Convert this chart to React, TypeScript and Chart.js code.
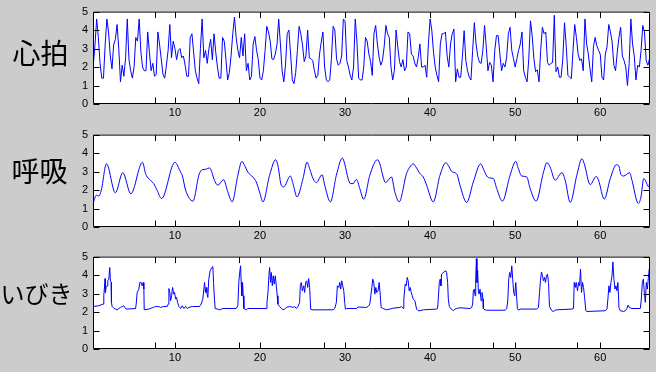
import React, { useEffect, useRef } from "react";
import { Chart, registerables } from "chart.js";
Chart.register(...registerables);

// ---- axes ----
const X_MIN = 0.37;
const X_MAX = 65.85;
const X_TICKS = [10, 20, 30, 40, 50, 60];
const X_MINOR_TICKS = [7.65, 17.56, 27.5, 37.45, 47.35, 57.3];
const Y_TICKS = [0, 1, 2, 3, 4, 5];

// ---- panel titles ----
const TITLES = ["心拍", "呼吸", "いびき"];

// ---- 心拍 (sampled every 0.2 from x = 0.4) ----
const HEART_X0 = 0.4;
const HEART_STEP = 0.2;
const HEART = [
  2.1, 3.2, 4.6, 3.6, 2.2, 1.4, 1.4, 3.2, 4.6, 3.9,
  2.6, 1.9, 3.2, 3.5, 4.3, 3.0, 1.2, 2.1, 1.5, 2.5,
  4.6, 2.4, 1.8, 1.4, 2.0, 3.6, 3.4, 4.6, 2.8, 2.0,
  1.8, 1.8, 3.9, 2.8, 1.8, 2.2, 1.5, 1.6, 3.9, 3.2,
  2.4, 1.6, 1.4, 2.1, 2.9, 4.3, 2.5, 3.4, 3.0, 2.4,
  2.9, 3.0, 2.5, 2.6, 2.1, 1.5, 1.5, 3.6, 3.8, 2.8,
  1.8, 1.4, 1.1,
  3.0, 4.6, 2.5, 2.9, 2.2, 3.0, 3.5, 2.4, 3.8, 2.8,
  2.0, 1.4, 1.4, 3.6, 3.4, 2.4, 1.3, 1.7, 2.6, 3.8,
  4.7, 3.6, 2.9, 2.5, 3.6, 2.6, 3.8, 1.8, 2.2, 1.3,
  1.5, 3.25, 3.65, 2.9, 2.4, 1.4, 1.3, 1.8, 2.9, 4.2,
  3.9, 3.4, 2.45, 2.4, 2.7, 3.2, 4.6, 3.25, 1.8,
  1.2, 2.1, 3.8, 4.0, 2.7, 1.3, 1.1, 1.7, 2.9, 4.2,
  3.8, 3.2, 2.3, 2.6, 4.0, 2.5, 2.45, 2.35, 1.8, 1.4,
  1.55, 2.7, 3.35, 3.9, 2.0, 1.3, 1.2, 1.3, 2.45, 4.2,
  4.0, 2.45, 2.1, 2.2, 2.6, 4.6, 4.5, 2.35, 2.0, 1.55,
  1.3, 2.0, 4.6, 3.35, 1.4, 1.3, 1.3, 2.0, 3.6, 3.4,
  2.7, 2.3, 1.55,
  3.8, 4.25, 3.25, 2.55, 2.1, 2.35, 3.1, 4.25, 3.8, 3.6,
  2.0, 1.3, 1.8, 4.0, 3.1, 2.3, 2.0, 2.4, 1.8, 2.0,
  3.9, 3.8, 2.7, 2.6, 2.2, 2.0, 2.5, 3.25,
  2.0, 2.0, 2.1, 1.45, 3.25, 4.6, 4.0, 2.8, 2.0, 1.55,
  1.2, 3.25, 3.8, 3.8, 3.9, 2.6, 2.0, 3.25, 3.8, 4.05,
  1.2, 1.9, 1.45, 1.45, 2.6, 3.97,
  2.35, 1.8, 1.45, 1.3, 2.9, 4.4, 3.25, 2.6, 2.25, 2.2,
  2.9, 4.25, 3.1, 1.8, 2.25, 2.1, 1.2, 2.9, 3.7, 3.7,
  2.7, 1.8, 2.2, 2.0, 2.55, 3.8, 4.15, 2.9, 2.45, 2.0,
  2.45, 2.9, 3.25, 3.9, 1.8, 1.45, 1.2, 2.45, 4.5, 3.7,
  2.45, 1.75, 1.85, 1.2, 2.9, 4.15, 3.8, 3.9, 2.25, 2.1,
  2.2, 2.25, 4.8,
  1.75, 2.0, 1.45, 1.45, 2.45, 4.4, 3.15, 1.55, 1.45, 1.37,
  2.9, 4.3, 3.6, 2.7, 2.35, 2.45, 1.8, 4.6, 3.25, 2.7,
  1.9, 1.2, 3.1, 3.6, 3.15, 2.9, 2.7, 1.45, 1.3, 2.7,
  3.1, 4.3, 3.9, 3.35, 2.1, 1.8, 2.8, 3.6, 4.15, 2.6,
  2.35, 2.0, 1.0, 2.2, 4.6, 3.25, 2.6, 1.3, 2.1, 2.0,
  2.9, 4.25, 3.9, 2.35, 2.1, 2.45,
];

// ---- 呼吸 (x, y) ----
const BREATH = [
  [0.37, 1.27], [0.77, 1.72], [1.05, 1.67], [1.35, 2.0], [1.95, 3.42], [3.0, 1.85],
  [3.87, 2.94], [4.82, 1.8], [6.19, 3.5], [6.55, 2.89], [6.74, 2.71], [7.13, 2.53],
  [7.5, 2.35], [7.9, 1.99], [8.43, 1.54], [10.0, 3.5], [10.67, 2.97], [10.86, 2.8],
  [11.26, 1.99], [12.12, 1.4], [12.83, 2.83], [13.22, 3.1], [13.61, 3.12], [14.06, 3.2],
  [14.73, 2.44], [15.05, 2.26], [15.71, 2.56], [16.22, 1.9], [16.73, 1.36], [17.4, 2.8],
  [17.87, 3.55], [18.19, 3.33], [18.58, 2.97], [19.17, 2.7], [19.56, 2.44], [19.95, 1.9],
  [20.35, 1.36], [21.13, 2.8], [21.84, 3.64], [22.11, 3.33], [22.5, 2.26], [22.78, 2.17],
  [23.57, 2.76], [23.88, 2.35], [24.35, 1.63], [25.06, 2.62], [25.53, 3.51], [25.84, 3.15],
  [26.24, 2.62], [26.63, 2.4], [27.3, 2.83], [27.61, 2.26], [28.28, 1.36], [28.98, 2.8],
  [29.69, 3.73], [29.96, 3.42], [30.36, 2.62], [30.63, 2.35], [30.95, 2.35], [31.34, 2.58],
  [31.73, 2.08], [32.2, 1.5], [32.91, 2.8], [33.81, 3.64], [34.09, 3.42], [34.48, 2.71],
  [34.75, 2.4], [35.46, 2.71], [35.85, 1.9], [36.36, 1.36], [37.23, 2.89], [37.62, 3.24],
  [38.01, 3.42], [38.41, 3.19], [38.8, 2.89], [39.19, 2.71], [39.59, 2.26], [40.37, 1.36],
  [41.16, 2.8], [41.86, 3.48], [42.14, 3.33], [42.53, 3.01], [42.92, 2.94], [43.2, 2.8],
  [43.51, 2.26], [44.3, 1.33], [45.08, 2.44], [45.95, 3.42], [46.26, 3.15], [46.65, 2.76],
  [47.05, 2.65], [47.44, 2.62], [47.83, 2.08], [48.5, 1.4], [49.4, 2.8], [50.07, 3.55],
  [50.38, 3.15], [50.77, 2.76], [51.36, 2.71], [51.76, 2.08], [52.46, 1.4], [53.33, 2.97],
  [53.72, 3.48], [54.11, 3.24], [54.7, 2.53], [55.49, 2.94], [55.88, 2.53], [56.47, 1.33],
  [57.25, 2.8], [57.84, 3.69], [58.12, 3.42], [58.82, 2.29], [59.53, 2.74], [59.8, 2.53],
  [60.47, 1.51], [61.18, 2.62], [61.89, 3.37], [62.16, 3.33], [62.44, 2.83], [62.75, 2.76],
  [63.46, 2.94], [63.73, 2.53], [64.48, 1.27], [64.79, 1.63], [65.11, 2.62], [65.3, 2.53],
  [65.69, 2.17], [65.85, 2.5],
];

// ---- いびき (x, y) ----
const SNORE = [
  [0.37, 2.3], [1.05, 2.34], [1.56, 2.43], [1.64, 2.88], [1.76, 3.6], [1.79, 3.81],
  [1.83, 3.06], [1.91, 3.33], [2.03, 3.42], [2.11, 3.69], [2.23, 3.78], [2.34, 4.41],
  [2.42, 3.69], [2.5, 3.6], [2.54, 2.52], [2.62, 2.3], [2.81, 2.21], [3.01, 2.16],
  [3.21, 2.12], [3.4, 2.19], [3.6, 2.25], [3.8, 2.3], [3.99, 2.34], [4.11, 2.25],
  [4.27, 2.16], [5.37, 2.19], [5.45, 2.43], [5.56, 3.06], [5.76, 3.24], [5.88, 3.6],
  [6.03, 3.6], [6.15, 3.42], [6.27, 3.6], [6.35, 3.24], [6.39, 2.12], [6.94, 2.16],
  [7.33, 2.23], [7.72, 2.3], [8.04, 2.3], [8.31, 2.25], [8.7, 2.3], [9.1, 2.3],
  [9.21, 2.43], [9.29, 3.27], [9.41, 3.06], [9.49, 2.61], [9.61, 2.88], [9.73, 3.33],
  [9.84, 2.97], [9.96, 3.06], [10.08, 2.7], [10.2, 2.79], [10.31, 2.52], [10.47, 2.3],
  [10.67, 2.19], [10.86, 2.34], [11.06, 2.19], [11.26, 2.3], [11.45, 2.19], [11.65, 2.25],
  [12.04, 2.3], [12.89, 2.3], [13.08, 2.43], [13.28, 2.7], [13.48, 3.6], [13.59, 3.06],
  [13.67, 3.33], [13.75, 3.06], [13.87, 2.79], [13.98, 3.78], [14.14, 4.23], [14.34, 4.41],
  [14.46, 4.46], [14.54, 3.6], [14.65, 2.7], [14.73, 2.19], [15.05, 2.16], [15.24, 2.12],
  [15.63, 2.19], [17.2, 2.19], [17.4, 2.34], [17.52, 3.69], [17.64, 4.23], [17.72, 4.5],
  [17.79, 3.6], [17.87, 2.88], [17.95, 3.6], [18.03, 2.88], [18.11, 2.19], [18.26, 2.16],
  [18.38, 2.12], [18.58, 2.19], [20.74, 2.19], [20.82, 2.52], [20.94, 3.06], [21.05, 3.96],
  [21.13, 4.41], [21.25, 3.6], [21.33, 4.14], [21.45, 3.42], [21.56, 3.96], [21.68, 3.51],
  [21.8, 3.96], [21.92, 3.42], [22.03, 2.88], [22.11, 2.43], [22.31, 2.3], [22.7, 2.12],
  [22.9, 2.16], [23.09, 2.25], [23.49, 2.3], [23.88, 2.25], [24.08, 2.3], [24.27, 2.19],
  [24.47, 2.3], [24.66, 2.52], [24.74, 3.42], [24.86, 3.6], [24.98, 3.15], [25.14, 3.42],
  [25.25, 3.06], [25.37, 3.6], [25.49, 3.69], [25.61, 3.33], [25.72, 3.81], [25.84, 3.33],
  [25.96, 2.16], [26.12, 2.12], [28.59, 2.12], [28.79, 2.19], [28.98, 2.52], [29.1, 3.42],
  [29.26, 3.33], [29.38, 3.6], [29.49, 3.24], [29.61, 3.69], [29.73, 3.42], [29.85, 3.15],
  [29.96, 2.52], [30.04, 2.16], [30.16, 2.19], [31.34, 2.19], [31.54, 2.27], [32.52, 2.25],
  [32.71, 2.3], [32.91, 2.43], [33.03, 2.88], [33.15, 3.33], [33.26, 3.78], [33.38, 3.6],
  [33.5, 2.97], [33.62, 3.33], [33.73, 3.06], [33.89, 3.15], [34.01, 3.6], [34.13, 2.97],
  [34.24, 2.25], [34.48, 2.19], [34.87, 2.12], [35.26, 2.16], [35.66, 2.21], [36.44, 2.25],
  [36.64, 2.3], [36.84, 2.19], [36.91, 2.7], [37.07, 3.51], [37.19, 3.42], [37.31, 3.87],
  [37.42, 3.69], [37.54, 3.15], [37.66, 3.33], [37.78, 3.06], [37.9, 2.88], [38.01, 2.7],
  [38.21, 2.61], [38.41, 2.16], [38.6, 2.07], [38.8, 2.07], [39.19, 2.12], [40.76, 2.16],
  [40.88, 2.19], [40.96, 2.7], [41.08, 3.6], [41.19, 3.78], [41.27, 3.42], [41.35, 4.05],
  [41.47, 4.1], [41.63, 4.17], [41.86, 4.23], [41.94, 4.14], [42.06, 3.6], [42.14, 2.7],
  [42.26, 2.3], [42.41, 2.19], [42.61, 2.12], [42.73, 2.07], [42.92, 2.16], [43.12, 2.19],
  [43.51, 2.23], [44.69, 2.19], [44.89, 2.25], [45.0, 2.43], [45.08, 3.15], [45.2, 3.24],
  [45.28, 2.88], [45.36, 3.78], [45.44, 4.89], [45.51, 3.6], [45.59, 4.23], [45.67, 3.15],
  [45.75, 2.97], [45.87, 3.24], [45.99, 2.61], [46.1, 3.06], [46.22, 2.7], [46.26, 2.19],
  [46.46, 2.12], [46.65, 2.1], [48.81, 2.1], [49.01, 2.19], [49.13, 2.61], [49.24, 3.78],
  [49.36, 4.14], [49.48, 3.87], [49.6, 4.5], [49.71, 3.78], [49.83, 3.06], [49.95, 2.88],
  [50.07, 3.6], [50.19, 2.7], [50.26, 2.19], [50.38, 2.1], [50.58, 2.16], [52.54, 2.16],
  [52.74, 2.25], [52.86, 3.06], [52.97, 3.69], [53.09, 4.17], [53.21, 3.96], [53.33, 3.69],
  [53.45, 3.87], [53.56, 3.6], [53.68, 3.96], [53.8, 4.05], [53.92, 3.6], [54.03, 2.3],
  [54.19, 2.16], [54.31, 2.07], [54.5, 2.03], [54.7, 2.1], [54.9, 2.12], [56.66, 2.16],
  [56.86, 2.19], [56.94, 3.6], [57.06, 3.33], [57.17, 3.6], [57.33, 3.15], [57.45, 3.6],
  [57.57, 3.42], [57.68, 4.32], [57.8, 3.06], [57.92, 3.6], [58.04, 3.33], [58.16, 2.79],
  [58.31, 2.07], [58.43, 2.03], [60.59, 2.07], [60.79, 2.16], [60.9, 2.7], [61.02, 3.42],
  [61.14, 3.06], [61.26, 3.6], [61.38, 3.96], [61.49, 4.71], [61.61, 3.78], [61.73, 3.24],
  [61.85, 3.42], [61.96, 3.15], [62.08, 3.6], [62.2, 2.25], [62.36, 2.07], [62.75, 2.03],
  [62.95, 2.07], [63.14, 2.19], [63.26, 2.37], [63.42, 2.25], [63.73, 2.19], [64.71, 2.19],
  [64.83, 2.7], [64.95, 3.6], [65.07, 3.78], [65.18, 3.06], [65.3, 2.52], [65.42, 3.6],
  [65.54, 3.24], [65.66, 3.87], [65.77, 4.32], [65.85, 3.6],
];

const TICK_FONT = { family: '"Liberation Sans", Arial, sans-serif', size: 11 };
const PLOT_TOP = 10;
const PLOT_BOTTOM = 104;

const framePlugin = {
  id: "matlabFrame",
  beforeDatasetsDraw(chart: any) {
    const { ctx, chartArea: a } = chart;
    ctx.save();
    ctx.fillStyle = "#ffffff";
    ctx.fillRect(a.left, a.top, a.right - a.left, a.bottom - a.top);
    ctx.restore();
  },
  afterDatasetsDraw(chart: any) {
    const { ctx, chartArea: a, scales } = chart;
    const xs = scales.x;
    const ys = scales.y;
    const L = a.left + 0.5;
    const R = a.right - 0.5;
    const T = a.top + 0.5;
    const B = a.bottom - 0.5;
    const TL = 6;
    ctx.save();
    ctx.strokeStyle = "#000";
    ctx.lineWidth = 1;
    ctx.beginPath();
    ctx.rect(L, T, R - L, B - T);
    [...X_TICKS, ...X_MINOR_TICKS].forEach((v) => {
      const px = Math.round(xs.getPixelForValue(v)) + 0.5;
      ctx.moveTo(px, B);
      ctx.lineTo(px, B - TL);
      ctx.moveTo(px, T);
      ctx.lineTo(px, T + TL);
    });
    Y_TICKS.forEach((v) => {
      const py = Math.round(ys.getPixelForValue(v)) + 0.5;
      ctx.moveTo(L, py);
      ctx.lineTo(L + TL, py);
      ctx.moveTo(R, py);
      ctx.lineTo(R - TL, py);
    });
    ctx.stroke();
    ctx.restore();
  },
};

const heartPoints = HEART.map((v, i) => ({ x: HEART_X0 + i * HEART_STEP, y: v }));
const breathPoints = BREATH.map(([x, y]) => ({ x, y }));
const snorePoints = SNORE.map(([x, y]) => ({ x, y }));

const PANELS = [
  { top: 0, h: 123, title: TITLES[0], size: 28, cx: 40.5, cy: 54, pts: heartPoints, smooth: false },
  { top: 123, h: 122, title: TITLES[1], size: 28, cx: 39.5, cy: 172, pts: breathPoints, smooth: true },
  { top: 245, h: 127, title: TITLES[2], size: 24, cx: 36.5, cy: 294, pts: snorePoints, smooth: false },
];

function makeChart(canvas: HTMLCanvasElement, p: any) {
  return new Chart(canvas, {
    type: "line",
    data: {
      datasets: [
        {
          data: p.pts,
          borderColor: "#0000ff",
          borderWidth: 1,
          pointRadius: 0,
          fill: false,
          tension: p.smooth ? 0.4 : 0,
          cubicInterpolationMode: p.smooth ? "monotone" : "default",
        } as any,
      ],
    },
    options: {
      animation: false,
      responsive: false,
      events: [],
      parsing: false as any,
      layout: { padding: { left: 0, right: 6, top: PLOT_TOP, bottom: 0 } },
      plugins: { legend: { display: false }, tooltip: { enabled: false } },
      scales: {
        x: {
          type: "linear",
          min: X_MIN,
          max: X_MAX,
          afterBuildTicks: (s: any) => {
            s.ticks = X_TICKS.map((v) => ({ value: v }));
          },
          afterFit: (s: any) => {
            s.height = p.h - PLOT_BOTTOM;
          },
          grid: { display: false, drawTicks: false },
          border: { display: false },
          ticks: {
            autoSkip: false,
            maxRotation: 0,
            padding: 2,
            color: "#000",
            font: TICK_FONT,
            callback: (v: any) => String(v),
          },
        },
        y: {
          type: "linear",
          min: 0,
          max: 5,
          afterBuildTicks: (s: any) => {
            s.ticks = Y_TICKS.map((v) => ({ value: v }));
          },
          afterFit: (s: any) => {
            s.width = 93;
          },
          grid: { display: false, drawTicks: false },
          border: { display: false },
          ticks: {
            padding: 5,
            color: "#000",
            font: TICK_FONT,
            callback: (v: any) => String(v),
          },
        },
      },
    },
    plugins: [framePlugin],
  } as any);
}

export default function App() {
  const refs = [useRef<HTMLCanvasElement>(null), useRef<HTMLCanvasElement>(null), useRef<HTMLCanvasElement>(null)];
  useEffect(() => {
    const charts = PANELS.map((p, i) => makeChart(refs[i].current as HTMLCanvasElement, p));
    return () => charts.forEach((c) => c.destroy());
  }, []);
  return (
    <div
      style={{
        position: "fixed",
        left: 0,
        top: 0,
        width: 656,
        height: 372,
        background: "#cccccc",
        overflow: "hidden",
      }}
    >
      {PANELS.map((p, i) => (
        <React.Fragment key={i}>
          <canvas
            ref={refs[i]}
            width={656}
            height={p.h}
            style={{ position: "absolute", left: 0, top: p.top, width: 656, height: p.h }}
          />
          <div
            style={{
              position: "absolute",
              left: p.cx - 60,
              width: 120,
              top: p.cy - p.size * 0.556,
              textAlign: "center",
              fontSize: p.size,
              lineHeight: p.size + "px",
              fontFamily: '"Noto Sans CJK JP", sans-serif',
              color: "#000",
              whiteSpace: "nowrap",
            }}
          >
            {p.title}
          </div>
        </React.Fragment>
      ))}
    </div>
  );
}
